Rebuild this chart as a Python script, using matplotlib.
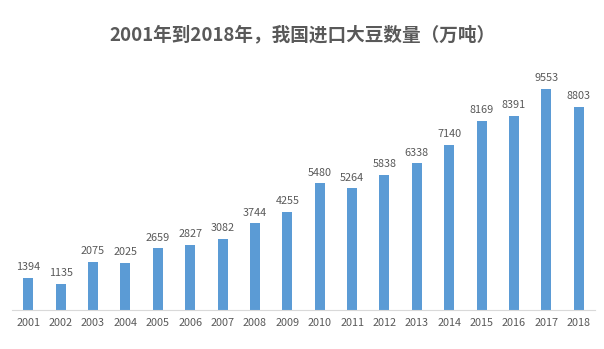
import matplotlib
matplotlib.use("Agg")
import matplotlib.pyplot as plt

plt.rcParams['font.family'] = ['Noto Sans CJK SC', 'DejaVu Sans']

# data
years = ["2001", "2002", "2003", "2004", "2005", "2006", "2007", "2008", "2009",
         "2010", "2011", "2012", "2013", "2014", "2015", "2016", "2017", "2018"]
imports = [1394, 1135, 2075, 2025, 2659, 2827, 3082, 3744, 4255,
           5480, 5264, 5838, 6338, 7140, 8169, 8391, 9553, 8803]

bar_color = "#5B9BD5"
text_color = "#595959"

fig = plt.figure(figsize=(6.04, 3.49), dpi=100)
ax = fig.add_axes([0.02, 0.112, 0.965, 0.662])

x = range(len(years))
bars = ax.bar(x, imports, width=0.31, color=bar_color)

for xi, v in zip(x, imports):
    ax.text(xi, v + 250, str(v), ha='center', va='bottom',
            fontsize=7.8, color=text_color)

ax.set_xlim(-0.5, len(years) - 0.5)
ax.set_ylim(0, 10000)
ax.set_xticks(list(x))
ax.set_xticklabels(years, fontsize=7.8, color=text_color)
ax.tick_params(axis='x', length=0, pad=6)
ax.set_yticks([])

for s in ['top', 'right', 'left']:
    ax.spines[s].set_visible(False)
ax.spines['bottom'].set_color("#D9D9D9")

fig.text(0.5, 0.9, "2001年到2018年，我国进口大豆数量（万吨）",
         ha='center', va='center', fontsize=13.4, fontweight='bold', color=text_color)

fig.savefig("out.png", dpi=100, facecolor='white')
